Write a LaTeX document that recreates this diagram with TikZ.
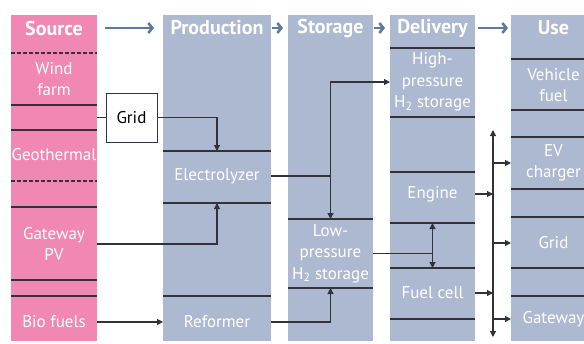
\documentclass[tikz,border=0pt]{standalone}
\usepackage{fontspec}
\setmainfont{PT Sans}
\usetikzlibrary{arrows.meta,positioning}
\definecolor{h2pink}{RGB}{241,135,179}
\definecolor{h2slate}{RGB}{172,185,208}
\definecolor{h2arrow}{RGB}{94,121,155}
\definecolor{h2line}{RGB}{50,50,58}
\tikzset{
  h2col/.style={anchor=north west,inner sep=0pt,minimum height=326pt},
  h2src/.style={h2col,fill=h2pink,minimum width=86pt},
  h2stage/.style={h2col,fill=h2slate,minimum width=85pt},
  h2head/.style={font=\bfseries\fontsize{20}{22}\selectfont,text=white,inner sep=0pt},
  h2cell/.style={align=center,text=white,inner sep=0pt,
                 font=\fontsize{17}{21.5}\selectfont},
  h2grid/.style={draw=h2line,thick,fill=white,minimum width=51pt,
                 minimum height=49pt,inner sep=0pt,font=\fontsize{17}{19}\selectfont},
  h2div/.style={h2line,line width=1.1pt},
  h2dash/.style={h2div,dash pattern=on 4pt off 2pt},
  h2step/.style={-{Straight Barb[length=4pt,width=10pt]},line width=2.6pt,h2arrow},
  h2link/.style={h2line,line width=1.1pt},
  h2flow/.style={h2link,-{Triangle[length=6pt,width=6pt]}},
  h2both/.style={h2link,{Triangle[length=6pt,width=6pt]}-{Triangle[length=6pt,width=6pt]}}
}
\begin{document}
\begin{tikzpicture}[x=1pt,y=-1pt]
  \clip (0,0) rectangle (584,343);
  % stage columns
  \node[h2src] (source) at (11,15) {};
  \node[h2stage,minimum width=108pt] (production) at (163,15) {};
  \node[h2stage] (storage) at (288,15) {};
  \node[h2stage] (delivery) at (390,15) {};
  \node[h2stage] (use) at (511,15) {};

  % headers
  \node[h2head] (hsrc) at (54,28) {Source};
  \node[h2head] (hprod) at (217,28) {Production};
  \node[h2head] (hstor) at (330.5,28) {Storage};
  \node[h2head] (hdel) at (432.5,28) {Delivery};
  \node[h2head] (huse) at (553.5,28) {Use};
  \draw[h2step,shorten <=8pt,shorten >=9pt] (hsrc -| source.east) -- (hsrc -| production.west);
  \draw[h2step,shorten <=1pt,shorten >=5pt] (hprod -| production.east) -- (hprod -| storage.west);
  \draw[h2step,shorten <=1pt,shorten >=5pt] (hstor -| storage.east) -- (hstor -| delivery.west);
  \draw[h2step,shorten <=3pt,shorten >=3pt] (hdel -| delivery.east) -- (hdel -| use.west);

  % cell dividers
  \foreach \y in {105,130,207,280,296} \draw[h2div] (11,\y) -- (97,\y);
  \foreach \y in {53,181} \draw[h2dash] (11,\y) -- (97,\y);
  \foreach \y in {151,203,296} \draw[h2div] (163,\y) -- (271,\y);
  \foreach \y in {219,288} \draw[h2div] (288,\y) -- (373,\y);
  \foreach \y in {48,117,172,223,268,319} \draw[h2div] (390,\y) -- (475,\y);
  \foreach \y in {59,110,137,189,217,268,296} \draw[h2div] (511,\y) -- (596,\y);

  % cells
  \node[h2cell] (wind) at (54,79) {Wind\\farm};
  \node[h2cell] (geo) at (54,155) {Geothermal};
  \node[h2cell] (gwpv) at (54,244) {Gateway\\PV};
  \node[h2cell] (bio) at (54,322) {Bio fuels};
  \node[h2cell] (elec) at (217,176) {Electrolyzer};
  \node[h2cell] (reformer) at (217,322) {Reformer};
  \node[h2cell] (lowstore) at (330.5,253.5) {Low-\\pressure\\H\textsubscript{2} storage};
  \node[h2cell] (highstore) at (432.5,82) {High-\\pressure\\H\textsubscript{2} storage};
  \node[h2cell] (engine) at (432.5,194) {Engine};
  \node[h2cell] (fuelcell) at (432.5,293) {Fuel cell};
  \node[h2cell] (vehicle) at (553.5,85) {Vehicle\\fuel};
  \node[h2cell] (ev) at (553.5,163) {EV\\charger};
  \node[h2cell] (usegrid) at (553.5,243) {Grid};
  \node[h2cell] (gateway) at (553.5,319) {Gateway};
  \node[h2grid] (grid) at (131.5,117.5) {Grid};

  \coordinate (electop) at (217,151);
  \coordinate (elecbot) at (217,203);
  \coordinate (lowtop) at (330.5,219);
  \coordinate (lowbot) at (330.5,288);
  \coordinate (engbot) at (432.5,223);
  \coordinate (celltop) at (432.5,268);
  \coordinate (bustop) at (493,130);
  \coordinate (busbot) at (493,337);

  % energy flows
  \draw[h2link] (grid.west -| source.east) -- (grid.west);
  \draw[h2flow] (grid.east) -| (electop);
  \draw[h2flow] (gwpv.east -| source.east) -| (elecbot);
  \draw[h2flow] (bio.east -| source.east) -- (bio -| production.west);
  \draw[h2flow] (reformer -| production.east) -| (lowbot);
  \draw[h2link] (elec -| production.east) -- (elec -| lowtop);
  \draw[h2both] (lowtop) |- (highstore -| delivery.west);
  \draw[h2link] (lowstore -| storage.east) -- (lowstore -| engbot);
  \draw[h2both] (engbot) -- (celltop);
  \draw[h2both] (bustop) -- (busbot);
  \draw[h2flow] (engine -| delivery.east) -- (engine -| bustop);
  \draw[h2flow] (fuelcell -| delivery.east) -- (fuelcell -| bustop);
  \foreach \n in {ev,usegrid,gateway}
    \draw[h2flow] (\n -| bustop) -- (\n -| use.west);
\end{tikzpicture}
\end{document}
